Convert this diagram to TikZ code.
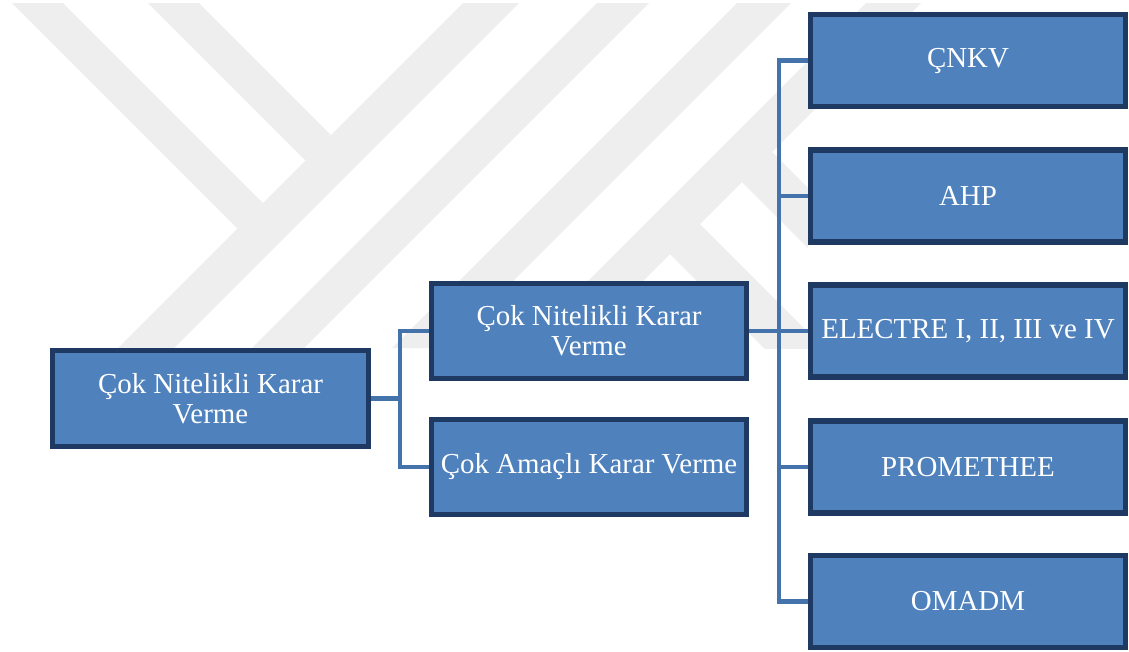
\documentclass[tikz,border=0pt]{standalone}
\usepackage{fontspec}
\setmainfont{Liberation Serif}
\pgfdeclarelayer{back}
\pgfsetlayers{back,main}
\definecolor{kutumavi}{RGB}{79,129,189}
\definecolor{kenar}{RGB}{30,58,98}
\definecolor{hatrengi}{RGB}{68,114,170}
\definecolor{filigran}{RGB}{238,238,238}
\tikzset{
  kutu/.style={draw=kenar, fill=kutumavi, line width=4pt, text=white,
    align=center, inner sep=0pt, minimum width=236pt, minimum height=71.5pt,
    font=\fontsize{21.7}{22.5}\selectfont},
  yontem/.style={kutu, minimum height=69pt},
  hat/.style={draw=hatrengi, line width=3.4pt}
}
\begin{document}
\begin{tikzpicture}[x=0.75pt, y=-0.75pt]
\useasboundingbox (0,0) rectangle (1129,651);
% filigran
\begin{pgfonlayer}{back}
\fill[white] (0,0) rectangle (1129,651);
\begin{scope}
\clip (0,3) rectangle (1129,348);
\fill[filigran] (463,3) -- (519,3) -- (174,348) -- (118,348) -- cycle;
\fill[filigran] (597,3) -- (649,3) -- (304,348) -- (252,348) -- cycle;
\fill[filigran] (737,3) -- (791,3) -- (446,348) -- (392,348) -- cycle;
\fill[filigran] (866,3) -- (921,3) -- (576,348) -- (521,348) -- cycle;
\fill[filigran] (12,3) -- (63,3) -- (263,203) -- (237.5,228.5) -- cycle;
\fill[filigran] (148,3) -- (199,3) -- (331,135) -- (305.5,160.5) -- cycle;
\fill[filigran] (742,182) -- (772,152) -- (808,188) -- (808,248) -- cycle;
\fill[filigran] (698,222) -- (668,252) -- (808,392) -- (808,332) -- cycle;
\end{scope}
\end{pgfonlayer}
% kutular
\node[kutu, minimum width=237pt, minimum height=72pt] (kok) at (210.5,398.5) {Çok Nitelikli Karar\\Verme};
\node[kutu] (nitelikli) at (589,331) {Çok Nitelikli Karar\\Verme};
\node[kutu] (amacli) at (589,467) {Çok Amaçlı Karar Verme};
\node[yontem] (cnkv) at (968,60.5) {ÇNKV};
\node[yontem] (ahp) at (968,196) {AHP};
\node[yontem] (electre) at (968,331) {ELECTRE I, II, III ve IV};
\node[yontem] (promethee) at (968,467) {PROMETHEE};
\node[yontem] (omadm) at (968,601.5) {OMADM};
% baglantilar
\coordinate (sol) at (400,398.5);
\coordinate (sag) at (779,331);
\begin{pgfonlayer}{back}
\draw[hat] (kok.east) -- (sol);
\draw[hat] (nitelikli.west) -| (sol) |- (amacli.west);
\draw[hat] (nitelikli.east) -- (electre.west);
\draw[hat] (cnkv.west) -| (sag) |- (omadm.west);
\foreach \n in {ahp,promethee}
  \draw[hat] (\n.west) -- (sag |- \n.west);
\end{pgfonlayer}
\end{tikzpicture}
\end{document}
